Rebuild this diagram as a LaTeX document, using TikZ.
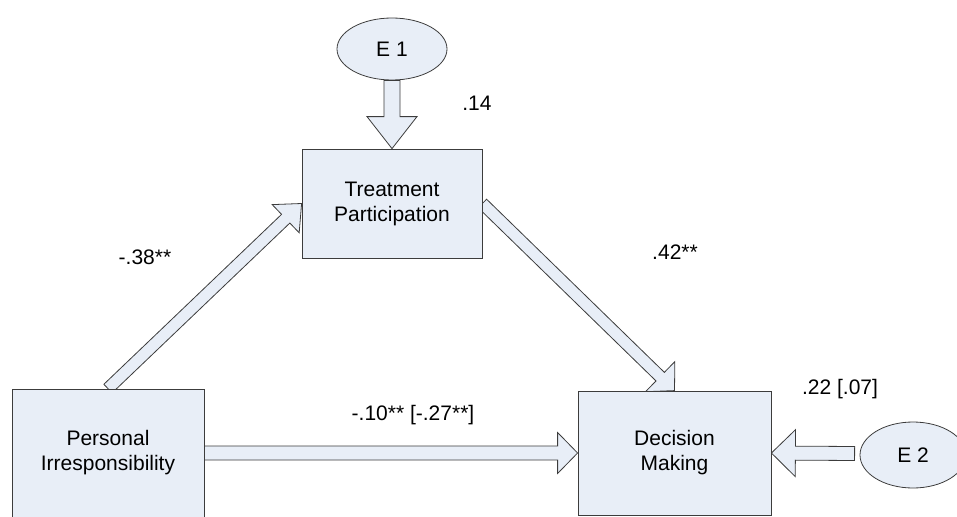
\documentclass[tikz,border=0pt]{standalone}
\usepackage{fontspec}
\setmainfont{Liberation Sans}
\usetikzlibrary{calc,shapes.geometric}

\definecolor{boxfill}{RGB}{232,238,247}
\definecolor{boxline}{RGB}{60,60,60}

\pgfdeclarelayer{back}
\pgfsetlayers{back,main}

\tikzset{
	var/.style={draw=boxline, fill=boxfill, line width=0.8pt, align=center, inner sep=0pt},
	err/.style={ellipse, draw=boxline, fill=boxfill, line width=0.8pt, inner sep=0pt},
	fat/.style={draw=boxline, fill=boxfill, line width=0.8pt, line join=miter},
	coef/.style={inner sep=1pt}
}

% block arrow: from, to, half shaft, half head, head length
\newcommand{\fatarrow}[5]{%
	\path ($(#2)!#5!(#1)$) coordinate (hb);
	\draw[fat] ($(#1)!#3!90:(#2)$) -- ($(hb)!#3!-90:(#1)$) -- ($(hb)!#4!-90:(#1)$)
		-- (#2) -- ($(hb)!#4!90:(#1)$) -- ($(hb)!#3!90:(#1)$) -- ($(#1)!#3!-90:(#2)$) -- cycle;
}

\begin{document}
\begin{tikzpicture}[x=1pt,y=-1pt, every node/.style={font=\fontsize{21}{25}\selectfont}]

	\useasboundingbox (0,0) rectangle (957,516);

	% variables
	\node[var, minimum width=192pt, minimum height=128pt] (pi) at (108,453) {Personal\\Irresponsibility};
	\node[var, minimum width=180pt, minimum height=109pt] (tp) at (392,203.5) {Treatment\\Participation};
	\node[var, minimum width=193pt, minimum height=124pt] (dm) at (674.5,453) {Decision\\Making};

	% error terms
	\node[err, minimum width=110pt, minimum height=62pt] (e1) at (392,49) {E 1};
	\node[err, minimum width=106pt, minimum height=66pt] (e2) at (913,455) {E 2};
	\coordinate (e2t) at ($(e2.west)+(-5,-1.5)$);

	% paths
	\begin{pgfonlayer}{back}
		\fatarrow{e1.south}{tp.north}{8pt}{25pt}{32pt}
		\fatarrow{pi.north}{tp.west}{6pt}{19.5pt}{22pt}
		\fatarrow{tp.east}{dm.north}{6pt}{21pt}{20pt}
		\fatarrow{pi.east}{dm.west}{7pt}{20.5pt}{20pt}
		\fatarrow{e2t}{dm.east}{7pt}{23.5pt}{24pt}
	\end{pgfonlayer}

	% coefficients
	\node[coef] (c14) at (477,103) {.14};
	\node[coef] (c38) at (145,257) {-.38**};
	\node[coef] (c42) at (675,252) {.42**};
	\node[coef] (c10) at (413,415) {-.10** [-.27**]};
	\node[coef] (c22) at (840,389) {.22 [.07]};

\end{tikzpicture}
\end{document}
